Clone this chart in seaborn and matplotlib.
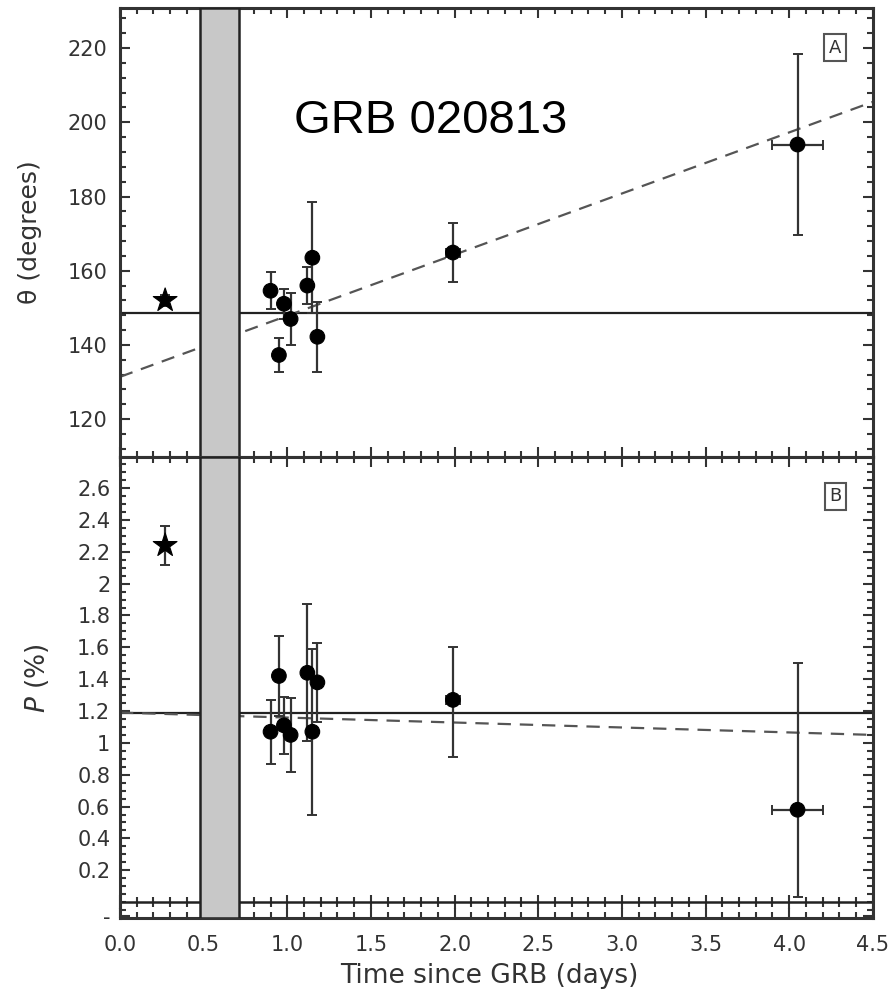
import numpy as np
import pandas as pd
import matplotlib
matplotlib.use("Agg")
import matplotlib.pyplot as plt
from matplotlib.ticker import MultipleLocator
import seaborn as sns

# Observation epochs (days after the burst) and horizontal error
t_days = [0.27, 0.90, 0.95, 0.98, 1.02, 1.12, 1.15, 1.18, 1.99, 4.05]
t_err = [0.0, 0.0, 0.0, 0.0, 0.0, 0.0, 0.0, 0.0, 0.04, 0.155]
kind = ["star", "dot", "dot", "dot", "dot", "dot", "dot", "dot", "dot", "dot"]

# Polarization angle (degrees)
theta = [152.0, 154.6, 137.3, 151.1, 147.0, 156.0, 163.5, 142.2, 164.9, 194.0]
theta_err = [1.5, 5.0, 4.5, 4.0, 7.0, 5.0, 15.0, 9.5, 8.0, 24.5]

# Polarization degree (%)
pol = [2.24, 1.07, 1.42, 1.11, 1.05, 1.44, 1.07, 1.38, 1.27, 0.58]
pol_err_lo = [0.12, 0.20, 0.25, 0.18, 0.23, 0.43, 0.52, 0.25, 0.36, 0.55]
pol_err_hi = [0.12, 0.20, 0.25, 0.18, 0.23, 0.43, 0.52, 0.25, 0.33, 0.92]

# Constant and linear fits
theta_const = 148.6
pol_const = 1.19
fit_t = [0.0, 4.5]
fit_theta = [131.4, 205.5]
fit_pol = [1.19, 1.05]

# Excluded time window
band = (0.48, 0.71)

df = pd.DataFrame({"t": t_days, "theta": theta, "pol": pol, "kind": kind})

sns.set_theme(style="ticks")
plt.rcParams["font.family"] = ["DejaVu Sans"]

fig = plt.figure(figsize=(8.92, 9.97), dpi=100)
ax1 = fig.add_axes([0.1345, 0.5416, 0.844, 0.4504])
ax2 = fig.add_axes([0.1345, 0.0792, 0.844, 0.4624])

dark = "#222222"
for ax in (ax1, ax2):
    ax.axvspan(band[0], band[1], facecolor="#c8c8c8", edgecolor=dark,
               lw=1.8, zorder=5)

# Panel A: angle
ax1.axhline(theta_const, color=dark, lw=1.6, zorder=2)
sns.lineplot(x=fit_t, y=fit_theta, ax=ax1, color="#555555", lw=1.6,
             linestyle=(0, (6, 4)), zorder=2)
ax1.errorbar(t_days, theta, yerr=theta_err, xerr=t_err, fmt="none",
             ecolor="#333333", elinewidth=1.6, capsize=3.5, capthick=1.4, zorder=3)
sns.scatterplot(data=df, x="t", y="theta", style="kind",
                markers={"star": "*", "dot": "o"}, size="kind",
                sizes={"star": 320, "dot": 110}, color="black",
                edgecolor="black", legend=False, ax=ax1, zorder=4)

# Panel B: degree
ax2.axhline(pol_const, color=dark, lw=1.6, zorder=2)
ax2.axhline(0.0, color=dark, lw=1.8, zorder=2)
sns.lineplot(x=fit_t, y=fit_pol, ax=ax2, color="#555555", lw=1.6,
             linestyle=(0, (6, 4)), zorder=2)
ax2.errorbar(t_days, pol, yerr=[pol_err_lo, pol_err_hi], xerr=t_err, fmt="none",
             ecolor="#333333", elinewidth=1.6, capsize=3.5, capthick=1.4, zorder=3)
sns.scatterplot(data=df, x="t", y="pol", style="kind",
                markers={"star": "*", "dot": "o"}, size="kind",
                sizes={"star": 320, "dot": 110}, color="black",
                edgecolor="black", legend=False, ax=ax2, zorder=4)

# Axes limits and ticks
for ax in (ax1, ax2):
    ax.set_xlim(0, 4.5)
    ax.xaxis.set_major_locator(MultipleLocator(0.5))
    ax.xaxis.set_minor_locator(MultipleLocator(0.1))
    ax.tick_params(which="both", direction="in", top=True, right=True,
                   width=1.5, color="#333333", labelsize=15, labelcolor="#333333")
    ax.tick_params(which="major", length=7)
    ax.tick_params(which="minor", length=4)
    for s in ax.spines.values():
        s.set_linewidth(2.2)
        s.set_color("#333333")
    ax.set_xlabel("")
    ax.set_ylabel("")

ax1.set_ylim(109.8, 230.8)
ax1.yaxis.set_major_locator(MultipleLocator(20))
ax1.yaxis.set_minor_locator(MultipleLocator(4))
ax1.tick_params(labelbottom=False)

ax2.set_ylim(-0.1, 2.795)
pol_ticks = [-0.09, 0.2, 0.4, 0.6, 0.8, 1.0, 1.2, 1.4, 1.6, 1.8, 2.0, 2.2, 2.4, 2.6]
pol_labels = ["-", "0.2", "0.4", "0.6", "0.8", "1", "1.2", "1.4", "1.6", "1.8",
              "2", "2.2", "2.4", "2.6"]
ax2.set_yticks(pol_ticks)
ax2.set_yticklabels(pol_labels)
ax2.yaxis.set_minor_locator(MultipleLocator(0.05))
ax2.set_xticks([0.0, 0.5, 1.0, 1.5, 2.0, 2.5, 3.0, 3.5, 4.0, 4.5])
ax2.set_xticklabels(["0.0", "0.5", "1.0", "1.5", "2.0", "2.5", "3.0", "3.5", "4.0", "4.5"])
ax2.tick_params(axis="x", which="major", pad=12)
ax2.tick_params(axis="y", which="major", pad=7)
ax1.tick_params(axis="y", which="major", pad=9)

# Tick marks along the zero line
zero_loc = (0 - (-0.1)) / (2.795 + 0.1)
sec = ax2.secondary_xaxis(zero_loc)
sec.xaxis.set_major_locator(MultipleLocator(0.5))
sec.xaxis.set_minor_locator(MultipleLocator(0.1))
sec.tick_params(which="both", direction="inout", labelbottom=False,
                width=1.5, color="#333333")
sec.tick_params(which="major", length=10)
sec.tick_params(which="minor", length=7)
sec.spines["bottom"].set_visible(False)

# Axis labels
ax1.set_ylabel("θ (degrees)", fontsize=18, color="#333333")
ax1.yaxis.set_label_coords(-0.104, 0.5)
ax2.set_ylabel("$P$ (%)", fontsize=19, color="#333333")
ax2.yaxis.set_label_coords(-0.092, 0.52)
ax2.set_xlabel("Time since GRB (days)", fontsize=19, color="#333333")
ax2.xaxis.set_label_coords(0.49, -0.098)

# Panel tags
box = dict(boxstyle="square,pad=0.25", fc="white", ec="#555555", lw=1.5)
ax1.text(0.950, 0.911, "A", transform=ax1.transAxes, fontsize=13, ha="center",
         va="center", color="#333333", bbox=box, zorder=6)
ax2.text(0.950, 0.915, "B", transform=ax2.transAxes, fontsize=13, ha="center",
         va="center", color="#333333", bbox=box, zorder=6)

fig.text(0.483, 0.879, "GRB 020813", fontsize=34, family="Liberation Sans",
         ha="center", va="center", color="black")

fig.savefig("out.png", dpi=100)
